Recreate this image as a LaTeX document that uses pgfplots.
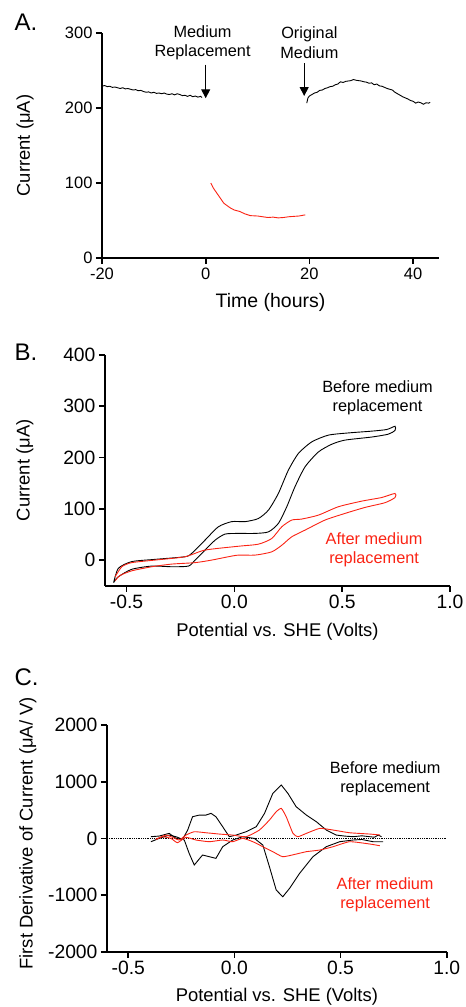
\documentclass[border=0pt]{standalone}
\usepackage{pgfplots}
\pgfplotsset{compat=1.18}
\usepackage{fontspec}
\setmainfont{Liberation Sans}
\usetikzlibrary{arrows.meta}
\definecolor{cvred}{RGB}{250,35,20}
\newcommand{\fs}{\fontsize{16.3}{19.3}\selectfont}
\newcommand{\ft}{\fontsize{19.3}{22}\selectfont}
\newcommand{\fl}{\fontsize{18.4}{21}\selectfont}
\pgfplotsset{gp/.style={
  scale only axis, axis x line*=bottom, axis y line*=left,
  axis line style={line width=1.7pt,-},
  tick align=outside, major tick length=6pt,
  every tick/.style={line width=1.7pt,black},
  tick label style={font=\ft},
  label style={font=\fl},
  /pgf/number format/assume math mode=true,
  /pgf/number format/1000 sep={},
  clip=false,
}}
\begin{document}
\begin{tikzpicture}
\useasboundingbox (0,0) rectangle (466pt,-1007pt);
\node[font=\fontsize{24}{26}\selectfont] at (26pt,-22.5pt) {A.};
\node[font=\fontsize{24}{26}\selectfont] at (26pt,-352pt) {B.};
\node[font=\fontsize{24}{26}\selectfont] at (26.5pt,-677pt) {C.};
% ---------------- Panel A
\begin{axis}[gp, at={(102pt,-258pt)}, anchor=south west,
  width=337pt, height=225pt, xmin=-20, xmax=45, ymin=0, ymax=300,
  xtick={-20,0,20,40}, ytick={0,100,200,300},
  tick label style={font=\fontsize{16.5}{19}\selectfont},
  xlabel={Time (hours)}, ylabel={Current (μA)},
  xlabel style={at={(axis description cs:0.5,-0.196)}, anchor=center, font=\fontsize{19.5}{22}\selectfont},
  ylabel style={at={(axis description cs:-0.228,0.5)}, anchor=center}]
\addplot[black, line width=0.9pt] coordinates {
(-20,229) (-19.5,230) (-19,228.5) (-18.5,229) (-18,227.5) (-17.5,228) (-17,227) (-16.5,226) (-16,227) (-15.5,225.5) (-15,226) (-14.5,225) (-14,224) (-13.5,224.5) (-13,223) (-12.5,223.5) (-12,222) (-11.5,221) (-11,221.5) (-10.5,220) (-10,221) (-9.5,219.5) (-9,220) (-8.5,219) (-8,220) (-7.5,218.5) (-7,218) (-6.5,219) (-6,217.5) (-5.5,219) (-5,218) (-4.5,216.5) (-4,217) (-3.5,215.5) (-3,217) (-2.5,215) (-2,216) (-1.5,214.5) (-1,215.5) (-0.7,214)};
\addplot[black, line width=0.9pt] coordinates {
(19.5,206.5) (19.7,213) (20,216) (20.5,218) (21,220) (21.5,221) (22,223.5) (22.5,224) (23,226) (23.5,227) (24,228.5) (24.5,229) (25,231) (25.5,232) (26,235) (26.5,234) (27,235.5) (27.5,236) (28,236.5) (28.5,238) (29,237) (29.5,236.5) (30,236) (30.5,235) (31,234.5) (31.5,233) (32,233.5) (32.5,231) (33,232) (33.5,229.5) (34,229) (34.5,227.5) (35,226) (35.5,225) (36,224) (36.5,221) (37,219) (37.5,217) (38,215) (38.5,213.5) (39,212) (39.5,210) (40,209) (40.5,206.5) (41,208) (41.5,207) (42,205) (42.5,207) (43,206.5) (43.3,207.5)};
\addplot[cvred, line width=0.9pt] coordinates {
(1,100) (1.5,93) (2,88) (2.8,80) (3.5,73) (4.7,67) (5.5,64) (6.6,62) (7.5,59) (8.6,56.5) (10,56) (11,55) (12,54) (13,54.5) (14,53.5) (15,54) (16,55) (17,55.5) (18,56) (19.2,57.5)};
\draw[-{Triangle[width=9pt,length=9pt]}, line width=1pt] (axis cs:0,258) -- (axis cs:0,213);
\draw[-{Triangle[width=9pt,length=9pt]}, line width=1pt] (axis cs:19,260) -- (axis cs:19,216);
\node[font=\fs, align=center] at (axis cs:-0.6,287) {Medium\\Replacement};
\node[font=\fs, align=center] at (axis cs:20,287) {Original\\Medium};
\end{axis}
% ---------------- Panel B
\begin{axis}[gp, at={(105pt,-585.7pt)}, anchor=south west,
  width=345pt, height=230.7pt, xmin=-0.6, xmax=1.0, ymin=-50, ymax=400,
  xtick={-0.5,0,0.5,1.0}, ytick={0,100,200,300,400},
  xticklabel style={/pgf/number format/.cd, fixed, fixed zerofill, precision=1},
  xlabel={Potential vs. SHE (Volts)}, ylabel={Current (μA)},
  xlabel style={at={(axis description cs:0.5,-0.2)}, anchor=center},
  ylabel style={at={(axis description cs:-0.232,0.5)}, anchor=center}]
\addplot[black, line width=0.9pt, smooth, tension=0.4] coordinates {
(-0.56,-44) (-0.538,-16) (-0.476,-3) (-0.368,1.4) (-0.229,6.5) (-0.198,13) (-0.136,39) (-0.074,65) (-0.012,75) (0.05,75) (0.111,81) (0.158,97.5) (0.204,130) (0.25,175) (0.297,208) (0.359,230.6) (0.436,243.7) (0.529,248) (0.637,251.5) (0.707,254.7) (0.745,261)
(0.745,253) (0.714,245.6) (0.637,240) (0.513,234) (0.452,226) (0.39,211) (0.328,182) (0.281,143) (0.243,104) (0.204,71.5) (0.158,55) (0.096,52) (0.019,52) (-0.043,50.7) (-0.089,39) (-0.136,19.5) (-0.182,0) (-0.213,-11.7) (-0.29,-13) (-0.383,-11.7) (-0.476,-18) (-0.538,-32.5) (-0.56,-44)};
\addplot[cvred, line width=0.9pt, smooth, tension=0.4] coordinates {
(-0.553,-32.5) (-0.522,-13) (-0.476,-5) (-0.368,0) (-0.229,6.5) (-0.136,19.5) (0.019,27) (0.111,31) (0.173,42) (0.22,65) (0.266,78) (0.312,80) (0.39,87.7) (0.482,104) (0.591,115) (0.683,122) (0.745,130)
(0.745,122) (0.699,112) (0.606,102.7) (0.513,91) (0.42,78) (0.328,58.5) (0.266,45.4) (0.22,29) (0.173,16) (0.096,9.7) (0.019,9.7) (-0.028,6.5) (-0.105,0) (-0.182,-5) (-0.29,-7.8) (-0.383,-13) (-0.476,-21) (-0.53,-30) (-0.553,-40)};
\node[font=\fs, align=center] at (axis cs:0.664,316) {Before medium\\replacement};
\node[font=\fs, align=center, text=cvred] at (axis cs:0.648,20) {After medium\\replacement};
\end{axis}
% ---------------- Panel C
\begin{axis}[gp, at={(107pt,-951.7pt)}, anchor=south west,
  width=339.7pt, height=226.7pt, xmin=-0.6, xmax=1.0, ymin=-2000, ymax=2000,
  xtick={-0.5,0,0.5,1.0}, ytick={-2000,-1000,0,1000,2000},
  xticklabel style={/pgf/number format/.cd, fixed, fixed zerofill, precision=1},
  xlabel={Potential vs. SHE (Volts)}, ylabel={First Derivative of Current (μA/ V)},
  xlabel style={at={(axis description cs:0.5,-0.2)}, anchor=center},
  ylabel style={at={(axis description cs:-0.2326,0.522)}, anchor=center}]
\addplot[black, densely dotted, line width=0.8pt] coordinates {(-0.6,0) (1.0,0)};
\addplot[black, line width=0.9pt] coordinates {
(-0.393,29) (-0.354,41) (-0.307,88) (-0.275,0) (-0.244,-18) (-0.22,147) (-0.197,382) (-0.165,411) (-0.134,411) (-0.11,441) (-0.087,382) (-0.055,205) (-0.024,29) (0.008,58) (0.055,117) (0.103,205) (0.142,441) (0.181,794) (0.221,941) (0.252,794) (0.291,558) (0.339,411) (0.386,294) (0.433,147) (0.48,58) (0.52,40) (0.559,29) (0.6,45) (0.638,29) (0.66,20) (0.677,58) (0.693,29)};
\addplot[black, line width=0.9pt] coordinates {
(0.70,-59) (0.653,-59) (0.6,-20) (0.559,-29) (0.496,-59) (0.433,-147) (0.37,-324) (0.307,-618) (0.26,-882) (0.228,-1030) (0.197,-912) (0.165,-500) (0.134,-118) (0.094,0) (0.039,29) (-0.008,-29) (-0.055,-147) (-0.087,-353) (-0.118,-324) (-0.15,-294) (-0.189,-470) (-0.213,-265) (-0.236,-29) (-0.275,29) (-0.307,58) (-0.354,0) (-0.393,-59)};
\addplot[cvred, line width=0.9pt, smooth, tension=0.3] coordinates {
(-0.37,-18) (-0.323,58) (-0.291,18) (-0.26,-29) (-0.228,58) (-0.189,117) (-0.134,99) (-0.071,76) (-0.008,58) (0.055,29) (0.118,147) (0.165,323) (0.197,470) (0.221,529) (0.244,382) (0.276,88) (0.299,29) (0.339,88) (0.402,176) (0.465,147) (0.543,99) (0.638,76) (0.685,60)};
\addplot[cvred, line width=0.9pt, smooth, tension=0.3] coordinates {
(0.685,-130) (0.638,-100) (0.543,-59) (0.465,-147) (0.402,-206) (0.339,-235) (0.291,-277) (0.228,-324) (0.181,-235) (0.134,-147) (0.087,-59) (0.039,0) (-0.008,-59) (-0.055,-29) (-0.118,-59) (-0.181,-29) (-0.228,18) (-0.268,-76) (-0.299,0) (-0.339,29) (-0.37,-18)};
\node[font=\fs, align=center] at (axis cs:0.71,1056) {Before medium\\replacement};
\node[font=\fs, align=center, text=cvred] at (axis cs:0.71,-990) {After medium\\replacement};
\end{axis}
\end{tikzpicture}
\end{document}
